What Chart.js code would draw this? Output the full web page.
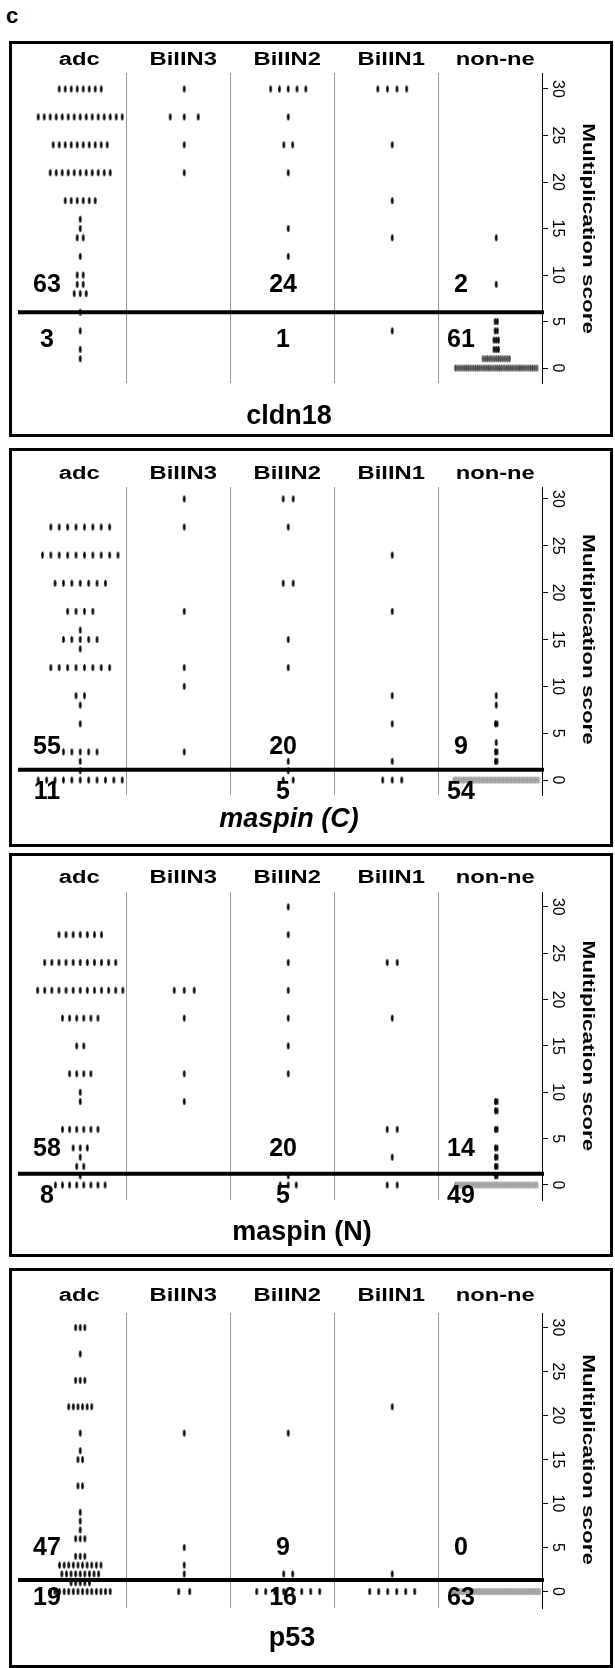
<!DOCTYPE html>
<html><head><meta charset="utf-8">
<script src="https://cdn.jsdelivr.net/npm/chart.js@4.4.0/dist/chart.umd.min.js"></script>
<style>
html,body{margin:0;padding:0;background:#fff;}
#wrap{position:relative;width:615px;height:1668px;overflow:hidden;}
.box{position:absolute;left:9px;width:604px;border:3px solid #000;box-sizing:border-box;}
canvas{position:absolute;left:0;}
#lbl{position:absolute;left:6px;top:3px;font:bold 22px "Liberation Sans",Arial,sans-serif;line-height:normal;}
</style></head><body>
<div id="wrap"><div id="lbl">c</div></div>
<script>
// ---------- data ----------
const categories = ['adc', 'BilIN3', 'BilIN2', 'BilIN1', 'non-ne'];
const panelNames = ['cldn18', 'maspin (C)', 'maspin (N)', 'p53'];
const scoreTicks = [0, 5, 10, 15, 20, 25, 30];
const axisTitle = 'Multiplication score';
const thresholds = [6, 1.1, 1.2, 1.3];
const countsAbove = [[63, 24, 2], [55, 20, 9], [58, 20, 14], [47, 9, 0]];
const countsBelow = [[3, 1, 61], [11, 5, 54], [8, 5, 49], [19, 16, 63]];

// [score, number of cases]
const cldn18_adc    = [[30,8],[27,15],[24,10],[21,11],[18,6],[16,1],[15,1],[14,2],[12,1],[10,2],[9,2],[8,3],[6,1],[4,1],[2,1],[1,1]];
const cldn18_bilin3 = [[30,1],[27,3],[24,1],[21,1]];
const cldn18_bilin2 = [[30,5],[27,1],[24,2],[21,1],[15,1],[12,1]];
const cldn18_bilin1 = [[30,4],[24,1],[18,1],[14,1],[4,1]];
const cldn18_nonne  = [[14,1],[9,1],[5,2],[4,2],[3,3],[2,3],[1,13],[0,38]];

const maspinC_adc    = [[27,8],[24,10],[21,7],[18,4],[16,1],[15,5],[14,1],[12,8],[9,2],[8,1],[6,1],[3,5],[2,1],[1,1],[0,11]];
const maspinC_bilin3 = [[30,1],[27,1],[18,1],[12,1],[10,1],[3,1]];
const maspinC_bilin2 = [[30,2],[27,1],[21,2],[15,1],[12,1],[2,1],[1,1],[0,2]];
const maspinC_bilin1 = [[24,1],[18,1],[9,1],[6,1],[2,1],[0,3]];
const maspinC_nonne  = [[9,1],[8,1],[6,2],[4,1],[3,2],[2,2],[0,54]];

const maspinN_adc    = [[27,7],[24,11],[21,13],[18,6],[15,2],[12,4],[10,1],[9,1],[6,6],[4,3],[3,1],[2,2],[1,1],[0,8]];
const maspinN_bilin3 = [[21,3],[18,1],[12,1],[9,1]];
const maspinN_bilin2 = [[30,1],[27,1],[24,1],[21,1],[18,1],[15,1],[12,1],[1,1],[0,3]];
const maspinN_bilin1 = [[24,2],[18,1],[6,2],[3,1],[0,2]];
const maspinN_nonne  = [[9,2],[8,2],[6,2],[4,2],[3,2],[2,2],[1,2],[0,49]];

const p53_adc    = [[30,3],[27,1],[24,3],[21,6],[18,1],[16,1],[15,2],[12,2],[9,1],[8,1],[7,1],[6,3],[4,3],[3,10],[2,9],[1,5],[0,14]];
const p53_bilin3 = [[18,1],[5,1],[3,1],[2,1],[0,2]];
const p53_bilin2 = [[18,1],[2,2],[0,8]];
const p53_bilin1 = [[21,1],[2,1],[0,6]];
const p53_nonne  = [[0,63]];

const groupData = [
  [cldn18_adc, cldn18_bilin3, cldn18_bilin2, cldn18_bilin1, cldn18_nonne],
  [maspinC_adc, maspinC_bilin3, maspinC_bilin2, maspinC_bilin1, maspinC_nonne],
  [maspinN_adc, maspinN_bilin3, maspinN_bilin2, maspinN_bilin1, maspinN_nonne],
  [p53_adc, p53_bilin3, p53_bilin2, p53_bilin1, p53_nonne]
];

// ---------- layout (positions / sizes only) ----------
const X_MIN = -0.56, X_MAX = 4.44, PLOT_LEFT = 22, PLOT_RIGHT = 542, W = 615;
const dividerPos = [0.44, 1.44, 2.44, 3.44];
const countX = [-0.32, 1.95, 3.66];
const layout = [
  {boxTop:41,   boxBottom:437,  top:73,   bottom:383,  yMin:-1.61, yMax:31.72, headerY:60.5, nameX:289, nameY:416.5, aboveY:8.9, belowY:3.0,  spacing:[6,14,8.8,9.6,2.2], italic:false},
  {boxTop:448,  boxBottom:847,  top:487,  bottom:795,  yMin:-1.6,  yMax:31.27, headerY:474,  nameX:289, nameY:820,   aboveY:3.5, belowY:-1.3, spacing:[8.4,10,10,9.5,1.6], italic:true},
  {boxTop:853,  boxBottom:1257, top:892,  bottom:1200, yMin:-1.62, yMax:31.6,  headerY:878,  nameX:302, nameY:1233,  aboveY:3.9, belowY:-1.2, spacing:[7.1,10,8,10,1.7], italic:false},
  {boxTop:1268, boxBottom:1668, top:1313, bottom:1608, yMin:-1.875,yMax:31.65, headerY:1296, nameX:292, nameY:1639,  aboveY:4.9, belowY:-0.75,spacing:[4.6,11,9,9,1.4], italic:false}
];
const FONT = '"Liberation Sans", Arial, sans-serif';

function makeDot(color){
  const c = document.createElement('canvas');
  c.width = 5; c.height = 9;
  const g = c.getContext('2d');
  g.fillStyle = color;
  g.beginPath(); g.ellipse(2.5, 4.5, 1.3, 3.6, 0, 0, Math.PI*2); g.fill();
  return c;
}
const dotBlack = makeDot('#000');
const dotDark = makeDot('#4a4a4a');
const dotGray = makeDot('#a2a2a2');

function buildPoints(k){
  const L = layout[k];
  const unitsPerPx = (X_MAX - X_MIN) / (PLOT_RIGHT - PLOT_LEFT);
  const black = [], dark = [], gray = [];
  groupData[k].forEach((rows, g) => {
    const sp = L.spacing[g] * unitsPerPx;
    rows.forEach(([v, n]) => {
      let target = black;
      if (L.spacing[g] < 2 && n > 4) target = gray;
      else if (L.spacing[g] < 3 && n > 8) target = dark;
      for (let j = 0; j < n; j++) target.push({x: g + (j - (n - 1) / 2) * sp, y: v});
    });
  });
  return {black, dark, gray};
}

function txt(ctx, s, x, y, font, rot, sx){
  ctx.save();
  ctx.translate(x, y);
  if (rot) ctx.rotate(rot);
  if (sx && sx !== 1) ctx.scale(sx, 1);
  ctx.font = font;
  ctx.fillText(s, 0, 0);
  ctx.restore();
}

function panelPlugin(k){
  const L = layout[k];
  return {
    id: 'panel' + k,
    afterDraw(chart){
      const {ctx, chartArea: ca, scales: {x, y}} = chart;
      const off = L.boxTop;
      ctx.save();
      // threshold line
      ctx.strokeStyle = '#000'; ctx.lineWidth = 4;
      const ty = y.getPixelForValue(thresholds[k]);
      ctx.beginPath(); ctx.moveTo(18, ty); ctx.lineTo(ca.right + 2, ty); ctx.stroke();
      ctx.fillStyle = '#000'; ctx.textAlign = 'center'; ctx.textBaseline = 'middle';
      // column headers
      categories.forEach((c, i) => txt(ctx, c, x.getPixelForValue(i) - 1, L.headerY - off, 'bold 18px ' + FONT, 0, 1.32));
      // rotated tick labels
      scoreTicks.forEach(v => txt(ctx, String(v), ca.right + 15.5, y.getPixelForValue(v), '16px ' + FONT, Math.PI/2, 1));
      // axis title
      const my = (y.getPixelForValue(scoreTicks[0]) + y.getPixelForValue(scoreTicks[scoreTicks.length-1])) / 2;
      txt(ctx, axisTitle, 588, my, 'bold 17px ' + FONT, Math.PI/2, 1.32);
      // counts
      countX.forEach((xv, j) => {
        txt(ctx, String(countsAbove[k][j]), x.getPixelForValue(xv), y.getPixelForValue(L.aboveY), 'bold 25px ' + FONT, 0, 1);
        txt(ctx, String(countsBelow[k][j]), x.getPixelForValue(xv), y.getPixelForValue(L.belowY), 'bold 25px ' + FONT, 0, 1);
      });
      // panel name
      txt(ctx, panelNames[k], L.nameX, L.nameY - off, (L.italic ? 'italic ' : '') + 'bold 27px ' + FONT, 0, 1);
      ctx.restore();
    }
  };
}

const wrap = document.getElementById('wrap');
layout.forEach((L, k) => {
  const box = document.createElement('div');
  box.className = 'box';
  box.style.top = L.boxTop + 'px';
  box.style.height = (L.boxBottom - L.boxTop) + 'px';
  wrap.appendChild(box);

  const cv = document.createElement('canvas');
  const h = L.boxBottom - L.boxTop;
  cv.width = W; cv.height = h;
  cv.style.width = W + 'px'; cv.style.height = h + 'px';
  cv.style.top = L.boxTop + 'px';
  wrap.appendChild(cv);

  const pts = buildPoints(k);
  new Chart(cv, {
    type: 'scatter',
    data: {datasets: [
      {data: pts.gray, pointStyle: dotGray, pointRadius: 3, pointHoverRadius: 3, borderWidth: 0},
      {data: pts.dark, pointStyle: dotDark, pointRadius: 3, pointHoverRadius: 3, borderWidth: 0},
      {data: pts.black, pointStyle: dotBlack, pointRadius: 3, pointHoverRadius: 3, borderWidth: 0}
    ]},
    options: {
      responsive: false, animation: false, devicePixelRatio: 1, events: [],
      layout: {autoPadding: false, padding: {left: PLOT_LEFT, right: W - PLOT_RIGHT, top: L.top - L.boxTop, bottom: L.boxBottom - L.bottom}},
      plugins: {legend: {display: false}, tooltip: {enabled: false}, title: {display: false}},
      scales: {
        x: {type: 'linear', position: 'bottom', min: X_MIN, max: X_MAX,
            afterBuildTicks: s => { s.ticks = dividerPos.map(v => ({value: v})); },
            afterFit: s => { s.height = 0; },
            ticks: {display: false},
            grid: {color: '#9a9a9a', lineWidth: 1, drawTicks: false},
            border: {display: false}},
        y: {type: 'linear', position: 'right', min: L.yMin, max: L.yMax,
            afterBuildTicks: s => { s.ticks = scoreTicks.map(v => ({value: v})); },
            afterFit: s => { s.width = 0; },
            ticks: {display: false},
            grid: {drawOnChartArea: false, drawTicks: true, tickLength: 6, color: '#000', lineWidth: 1},
            border: {display: true, color: '#000', width: 1}}
      }
    },
    plugins: [panelPlugin(k)]
  });
});
</script>
</body></html>
